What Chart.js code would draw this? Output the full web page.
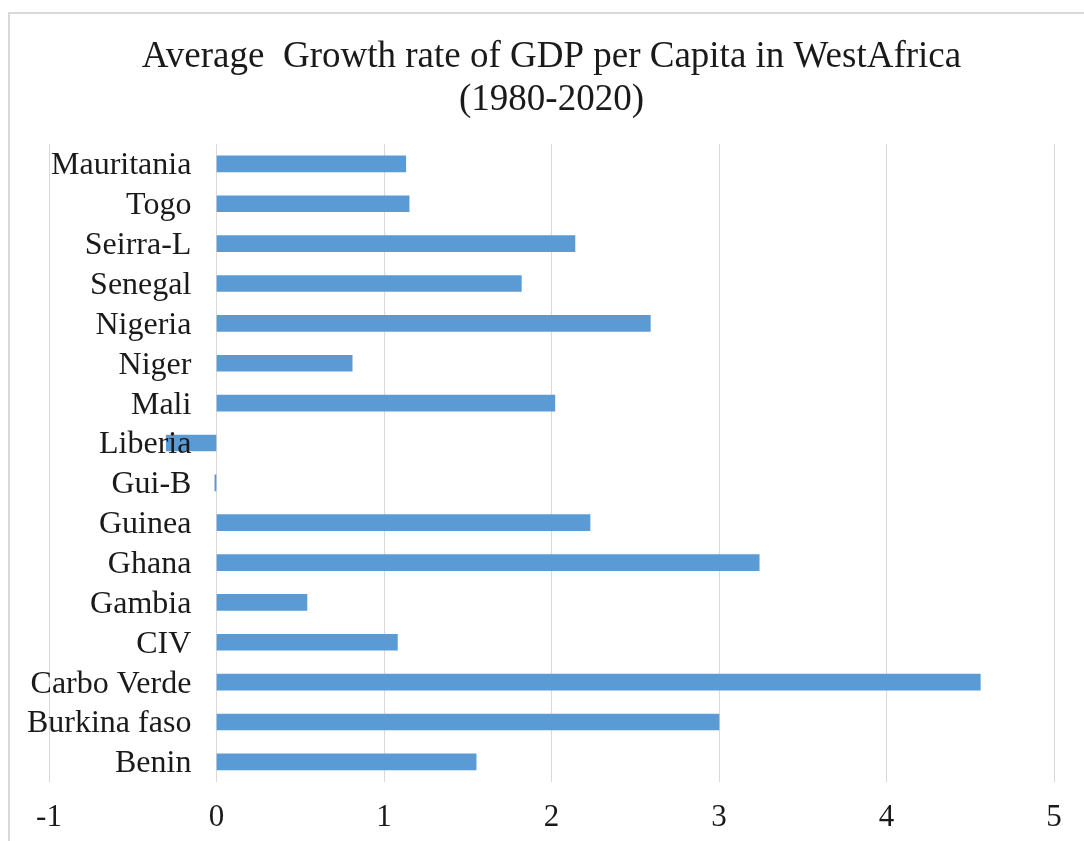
<!DOCTYPE html>
<html lang="en">
<head>
    <meta charset="UTF-8">
    <title>Average Growth rate of GDP per Capita in WestAfrica</title>
    <style>
        body {
            margin: 0;
            padding: 0;
            background-color: #fff;
            overflow: hidden;
        }
        .frame {
            position: absolute;
            left: 8px;
            top: 12px;
            width: 1080px;
            height: 845px;
            border: 2px solid #d9d9d9;
        }
    </style>
</head>
<body>

<div class="frame">
    <canvas id="gdpChart" width="1080" height="845"></canvas>
</div>

<script src="https://cdn.jsdelivr.net/npm/chart.js"></script>
<script>
    // Countries, top to bottom as they appear in the chart
    var countries = ['Mauritania', 'Togo', 'Seirra-L', 'Senegal', 'Nigeria', 'Niger', 'Mali', 'Liberia',
                     'Gui-B', 'Guinea', 'Ghana', 'Gambia', 'CIV', 'Carbo Verde', 'Burkina faso', 'Benin'];
    // Average growth rate of GDP per capita, 1980-2020 (%)
    var growthRates = [1.13, 1.15, 2.14, 1.82, 2.59, 0.81, 2.02, -0.30,
                       -0.01, 2.23, 3.24, 0.54, 1.08, 4.56, 3.00, 1.55];
    var xTicks = [-1, 0, 1, 2, 3, 4, 5];

    var serif = "'Liberation Serif', 'Times New Roman', serif";
    var textColor = '#1a1a1a';

    var ctx = document.getElementById('gdpChart').getContext('2d');
    var chart = new Chart(ctx, {
        type: 'bar',
        data: {
            labels: countries,
            datasets: [{
                data: growthRates,
                backgroundColor: '#5b9bd5',
                borderWidth: 0,
                barThickness: 16
            }]
        },
        options: {
            indexAxis: 'y',
            responsive: false,
            animation: false,
            layout: {
                padding: { left: 39, right: 36, top: 0, bottom: 6 }
            },
            plugins: {
                legend: { display: false },
                tooltip: { enabled: false },
                title: {
                    display: true,
                    text: ['Average  Growth rate of GDP per Capita in WestAfrica', '(1980-2020)'],
                    color: textColor,
                    font: { family: serif, size: 37, weight: 'normal', lineHeight: 1.162 },
                    padding: { top: 22, bottom: 22 }
                }
            },
            scales: {
                x: {
                    min: xTicks[0],
                    max: xTicks[xTicks.length - 1],
                    afterBuildTicks: function (axis) {
                        axis.ticks = xTicks.map(function (v) { return { value: v }; });
                    },
                    grid: { color: '#d9d9d9', lineWidth: 1, drawTicks: false },
                    border: { display: false },
                    ticks: {
                        color: textColor,
                        font: { family: serif, size: 31 },
                        padding: 17
                    }
                },
                y: {
                    // labels sit just left of the zero line, as in Excel ("next to axis")
                    position: { x: -0.15 },
                    grid: { display: false, drawTicks: false },
                    border: { display: false },
                    ticks: {
                        z: 1,
                        color: textColor,
                        font: { family: serif, size: 32 },
                        labelOffset: 2,
                        autoSkip: false
                    }
                }
            }
        }
    });
</script>

</body>
</html>
